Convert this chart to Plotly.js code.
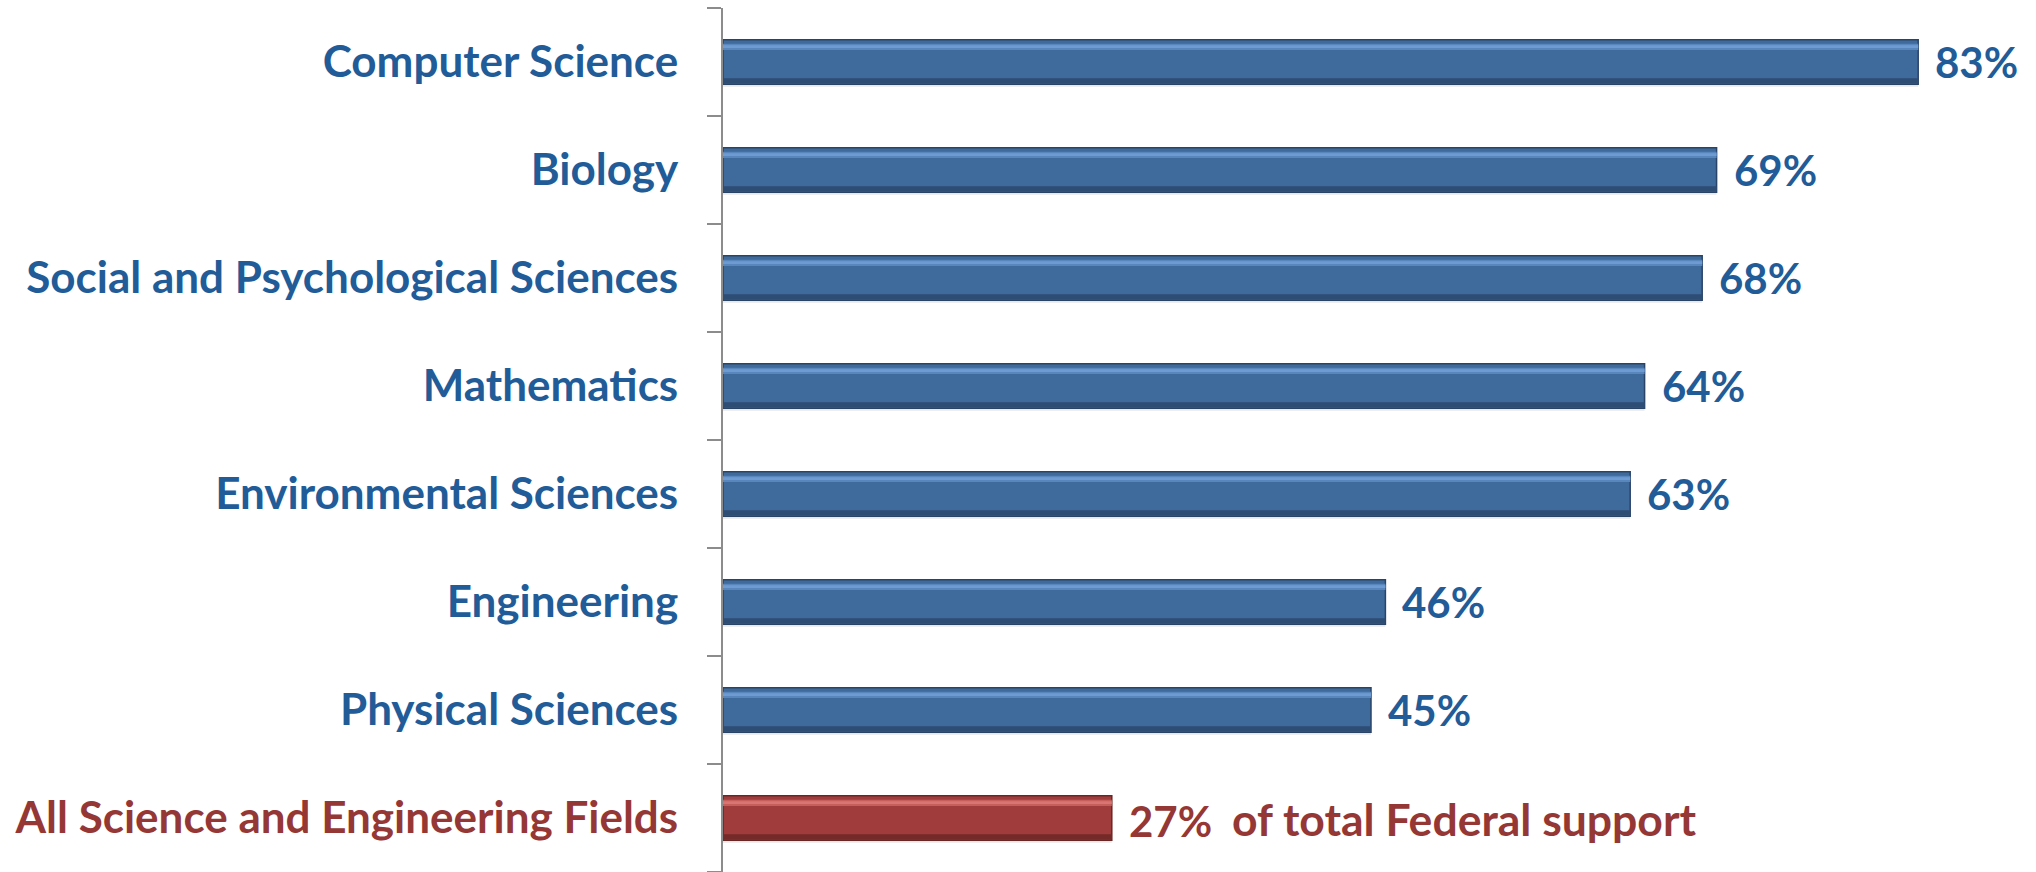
<!DOCTYPE html>
<html>
<head>
<meta charset="utf-8">
<script src="https://cdn.plot.ly/plotly-3.0.1.min.js"></script>
<style>html,body{margin:0;padding:0;background:#fff;}#chart{width:2036px;height:872px;}</style>
</head>
<body>
<div id="chart"></div>
<script>
const categories = ["Computer Science", "Biology", "Social and Psychological Sciences", "Mathematics", "Environmental Sciences", "Engineering", "Physical Sciences", "All Science and Engineering Fields"];
const values = [83, 69, 68, 64, 63, 46, 45, 27];
const valueLabels = ["83%", "69%", "68%", "64%", "63%", "46%", "45%", "27%"];
const noteText = "of total Federal support";

const BLUE_TEXT = "#215C98", RED_TEXT = "#953735";
const last = categories.length - 1;
const isRed = i => i === last;
const pick = (b, r) => categories.map((c, i) => isRed(i) ? r : b);

const FONT = "Lato, 'Open Sans', sans-serif";
const base = {type: "bar", orientation: "h", y: categories, x: values, hoverinfo: "skip", showlegend: false};

const traces = [
  // shadow
  Object.assign({}, base, {width: 0.41, offset: -0.18, marker: {color: "rgba(0,0,0,0.09)", line: {width: 0}}}),
  // main body
  Object.assign({}, base, {width: 0.41, offset: -0.205, marker: {color: pick("#3E6A9C", "#A03C3B"), line: {color: pick("#2A4468", "#6A2624"), width: 1.5}}}),
  // top highlight
  Object.assign({}, base, {width: 0.06, offset: -0.17, marker: {color: pick("#5A86BE", "#C45F5C"), line: {width: 0}}}),
  Object.assign({}, base, {width: 0.025, offset: -0.155, marker: {color: pick("#6E9BD2", "#D97572"), line: {width: 0}}}),
  // bottom shade
  Object.assign({}, base, {width: 0.05, offset: 0.15, marker: {color: pick("#2E4D75", "#742A29"), line: {width: 0}}})
];

const annotations = categories.map((c, i) => ({
  x: values[i], y: c, xref: "x", yref: "y", text: valueLabels[i], showarrow: false,
  xanchor: "left", yanchor: "middle", xshift: 15, yshift: isRed(i) ? -3 : 0,
  font: {family: FONT, size: 42, color: isRed(i) ? RED_TEXT : BLUE_TEXT, weight: "bold"}
}));
annotations.push({
  x: values[last], y: categories[last], xref: "x", yref: "y", text: noteText, showarrow: false,
  xanchor: "left", yanchor: "middle", xshift: 118,
  font: {family: FONT, size: 44.5, color: RED_TEXT, weight: "bold"}
});

const ticktext = categories.map((c, i) => isRed(i) ? '<span style="color:' + RED_TEXT + '">' + c + '</span>' : c);

const layout = {
  width: 2036, height: 872,
  margin: {l: 723, r: 17, t: 8, b: 0},
  paper_bgcolor: "#fff", plot_bgcolor: "#fff",
  barmode: "overlay",
  xaxis: {range: [0, 90], visible: false, fixedrange: true},
  yaxis: {
    type: "category", range: [7.5, -0.5], autorange: false,
    tickmode: "array", tickvals: categories, ticktext: ticktext,
    tickson: "boundaries", ticks: "outside", ticklen: 14, tickwidth: 2, tickcolor: "#8C8C8C",
    showline: true, linecolor: "#8C8C8C", linewidth: 2, showgrid: false, zeroline: false,
    ticklabelstandoff: 34,
    tickfont: {family: FONT, size: 44, color: BLUE_TEXT, weight: "bold"}
  },
  annotations: annotations
};

Plotly.newPlot("chart", traces, layout, {staticPlot: true, displayModeBar: false});
</script>
</body>
</html>
